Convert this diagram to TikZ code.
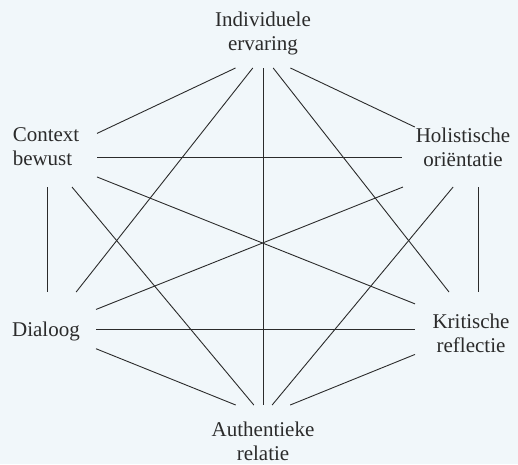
\documentclass[tikz,border=0pt]{standalone}
\usepackage{fontspec}
\setmainfont{Liberation Serif}
\usepackage{xcolor}
\definecolor{paper}{RGB}{241,247,250}
\definecolor{ink}{RGB}{43,43,43}
\tikzset{hub/.style 2 args={minimum width=#1pt, minimum height=#2pt, inner sep=0pt, outer sep=0pt}}
\tikzset{lbl/.style={text=ink, font=\fontsize{21}{24}\selectfont, align=center, inner sep=0pt}}
\tikzset{link/.style={draw=ink, line width=0.9pt}}

\begin{document}
\begin{tikzpicture}[x=1pt,y=1pt]
\useasboundingbox (0,0) rectangle (518,-464);
\fill[paper] (0,0) rectangle (518,-464);
%
% the six themes
\node[hub={60}{26}, label={[lbl,yshift=22pt]center:{Individuele\\ervaring}}] (ervaring) at (263,-55) {};
\node[hub={100}{60}, label={[lbl,align=left,xshift=-1pt,yshift=10pt]center:{Context\\bewust}}] (context) at (47,-157) {};
\node[hub={152}{60}, label={[lbl,xshift=-15pt,yshift=10pt]center:{Holistische\\oriëntatie}}] (holistisch) at (478,-157) {};
\node[hub={98}{74}, label={[lbl,xshift=-1pt,yshift=-2pt]center:{Dialoog}}] (dialoog) at (47,-329) {};
\node[hub={126}{74}, label={[lbl,xshift=-7pt,yshift=-4pt]center:{Kritische\\reflectie}}] (kritisch) at (478,-329) {};
\node[hub={60}{22}, label={[lbl,yshift=-25pt]center:{Authentieke\\relatie}}] (relatie) at (263,-416) {};
%
% every theme tied to every other
\foreach \b in {context,holistisch,dialoog,kritisch,relatie}
  \draw[link] (ervaring) -- (\b);
\foreach \b in {holistisch,dialoog,kritisch,relatie}
  \draw[link] (context) -- (\b);
\foreach \b in {dialoog,kritisch,relatie}
  \draw[link] (holistisch) -- (\b);
\draw[link] (dialoog) -- (kritisch);
\draw[link] (dialoog) -- (relatie);
\draw[link] (kritisch) -- (relatie);
\end{tikzpicture}
\end{document}
